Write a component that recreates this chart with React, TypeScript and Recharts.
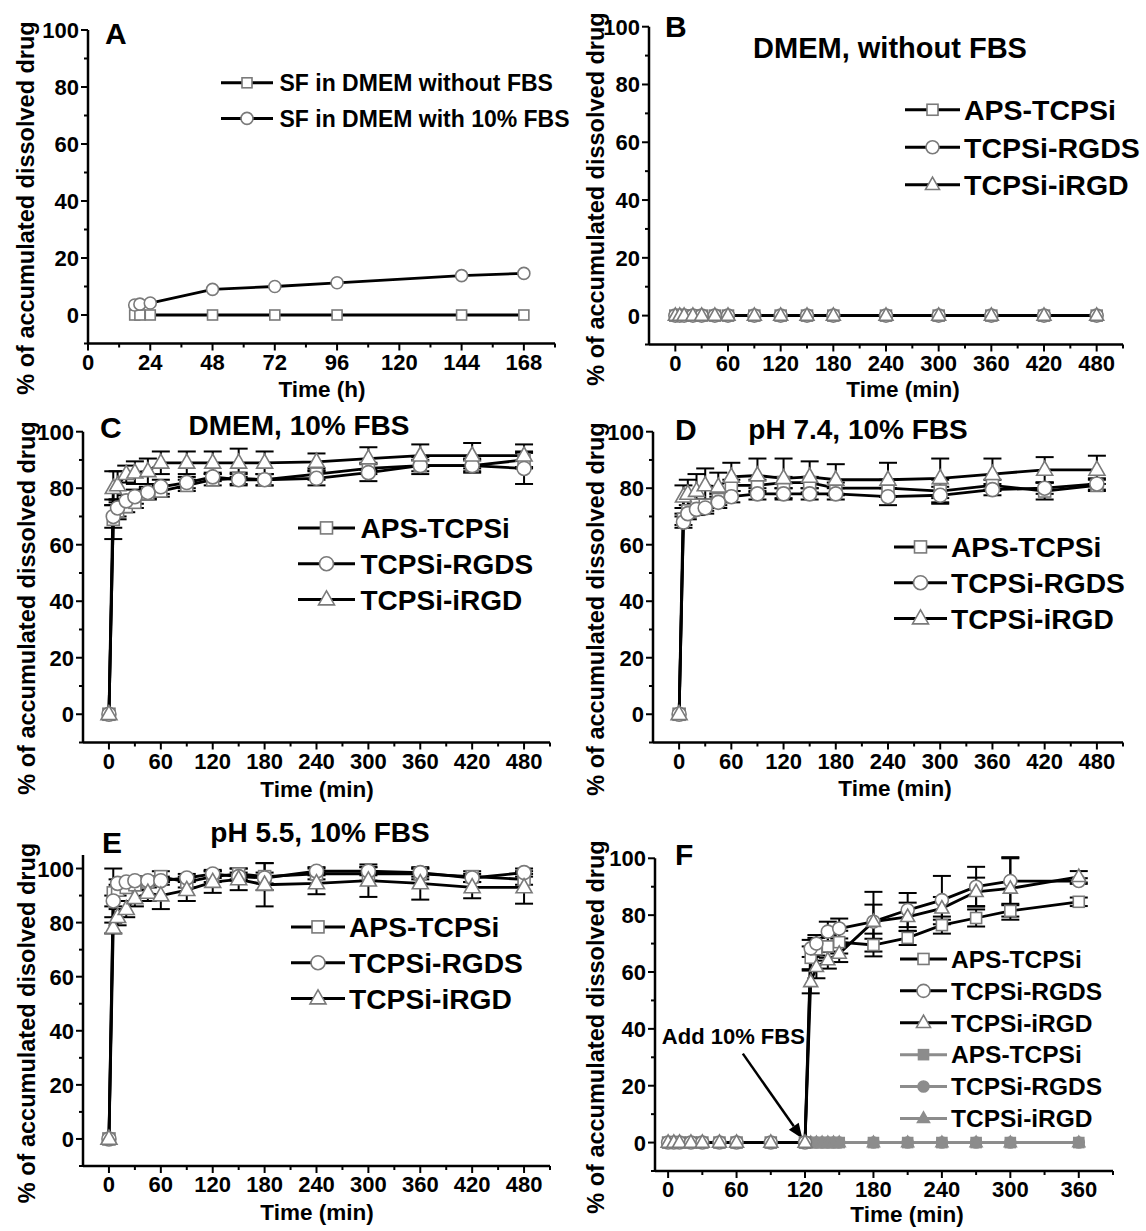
import React from 'react';
import { LineChart, Line, XAxis, YAxis, ErrorBar, Legend, ReferenceLine } from 'recharts';

const W = 1146;
const H = 1231;
const FONT = '"Liberation Sans", Arial, Helvetica, sans-serif';
const MARK_STROKE = '#7a7a7a';
const GRAY = '#8c8c8c';

// ---------- Panel A (hours) ----------
const aTimes = [18, 20, 24, 48, 72, 96, 144, 168];
const aWithoutFBS = [0, 0, 0, 0, 0, 0, 0, 0];
const aWithFBS = [3.5, 3.8, 4.2, 9.0, 10.0, 11.3, 13.8, 14.6];
const aXMajor = [0, 24, 48, 72, 96, 120, 144, 168];
const aXMinor = [12, 36, 60, 84, 108, 132, 156, 180];

// ---------- Shared minute grid (B–E) ----------
const minTimes = [0, 5, 10, 20, 30, 45, 60, 90, 120, 150, 180, 240, 300, 360, 420, 480];
const minXMajor = [0, 60, 120, 180, 240, 300, 360, 420, 480];
const minXMinor = [30, 90, 150, 210, 270, 330, 390, 450, 510];
const yMajor = [0, 20, 40, 60, 80, 100];
const yMinor = [-10, 10, 30, 50, 70, 90];

// ---------- Panel B ----------
const bAPS = [0, 0, 0, 0, 0, 0, 0, 0, 0, 0, 0, 0, 0, 0, 0, 0];
const bRGDS = [0, 0, 0, 0, 0, 0, 0, 0, 0, 0, 0, 0, 0, 0, 0, 0];
const bIRGD = [0, 0, 0, 0, 0, 0, 0, 0, 0, 0, 0, 0, 0, 0, 0, 0];

// ---------- Panel C ----------
const cAPS = [0, 69, 72, 73.5, 75, 78, 79, 81, 83, 83.5, 83, 85, 87, 88, 88, 90];
const cAPSErr = [0, 7, 3, 2, 2, 2, 2, 2, 2, 2, 2, 2, 2, 2, 2, 3];
const cRGDS = [0, 70, 73, 75.5, 77, 78.5, 80.5, 82, 84, 83, 83, 83.5, 85.5, 88, 88, 87];
const cRGDSErr = [0, 4, 3, 2, 2.5, 2, 2.5, 2, 1.5, 2, 2, 2.5, 3, 3, 2.5, 5.5];
const cIRGD = [0, 80, 81, 85, 85.5, 86, 89, 89, 89, 89, 89, 89.3, 90.5, 91.5, 91.5, 91.5];
const cIRGDErr = [0, 6, 5, 3, 4, 4.5, 4, 4, 4, 5, 4, 3, 4, 4, 4.5, 4];

// ---------- Panel D ----------
const dAPS = [0, 69, 72, 74, 74, 76, 81, 81, 82, 82, 80, 80, 79, 81, 79, 81];
const dAPSErr = [0, 2, 2, 2, 2, 2, 2, 2, 2, 2, 2, 3, 4, 2, 3, 2];
const dRGDS = [0, 68, 71, 72.5, 73, 75, 77, 78, 78, 78, 78, 77, 77.5, 79.5, 80, 81.5];
const dRGDSErr = [0, 2, 2, 2, 2, 2, 2, 2, 2, 2, 2, 3, 3, 2, 2, 2];
const dIRGD = [0, 77, 78, 79, 81, 80.5, 84, 84.5, 83.5, 84, 83, 83, 83.5, 85, 86.5, 86.5];
const dIRGDErr = [0, 4, 5, 6, 6, 5, 5, 6, 7, 5.5, 5.5, 6, 7, 5.5, 4.5, 5];

// ---------- Panel E ----------
const eAPS = [0, 91, 92, 93, 94, 95, 97, 95, 97, 98, 97, 98, 98, 98, 97, 96];
const eAPSErr = [0, 9, 2, 2, 2, 2, 2, 2, 2, 2, 5, 2, 2.5, 2, 2, 2];
const eRGDS = [0, 88, 94.5, 95, 95.5, 95.5, 95.5, 96.5, 98, 97, 96.5, 99, 99, 98.5, 96.5, 98.5];
const eRGDSErr = [0, 2, 1.5, 1.5, 1.5, 1.5, 1.5, 1.5, 1.5, 1.5, 2, 1.5, 1.5, 1.5, 1.5, 1.5];
const eIRGD = [0, 78, 82, 85, 89, 91, 90, 92, 95, 96, 94, 94.5, 95.5, 94.5, 93, 93];
const eIRGDErr = [0, 2, 3, 3, 3, 3, 5, 4, 4, 4, 8, 4, 6, 6, 4, 6];

// ---------- Panel F ----------
const fTimes = [0, 5, 10, 20, 30, 45, 60, 90, 120, 125, 130, 140, 150, 180, 210, 240, 270, 300, 360];
const fAPS = [0, 0, 0, 0, 0, 0, 0, 0, 0, 65, 68, 69, 70.5, 69.5, 72, 76.5, 79, 81.5, 84.7];
const fAPSErr = [0, 0, 0, 0, 0, 0, 0, 0, 0, 4, 4, 4, 4, 4, 2.5, 3, 3, 2, 1.5];
const fRGDS = [0, 0, 0, 0, 0, 0, 0, 0, 0, 68.3, 70, 74.2, 75.3, 77.7, 81.8, 85.3, 90, 92, 92];
const fRGDSErr = [0, 0, 0, 0, 0, 0, 0, 0, 0, 3, 3, 3.5, 3.5, 10.5, 6, 8.5, 7, 8, 1];
const fIRGD = [0, 0, 0, 0, 0, 0, 0, 0, 0, 56.5, 61.8, 64.2, 66.5, 77.7, 79.4, 82.4, 88.2, 89.4, 93.5];
const fIRGDErr = [0, 0, 0, 0, 0, 0, 0, 0, 0, 4, 4, 3, 3, 6, 5, 4, 5, 11, 2];
const fCtrlTimes = [125, 130, 135, 140, 145, 150, 180, 210, 240, 270, 300, 360];
const fAPSCtrl = [0, 0, 0, 0, 0, 0, 0, 0, 0, 0, 0, 0];
const fRGDSCtrl = [0, 0, 0, 0, 0, 0, 0, 0, 0, 0, 0, 0];
const fIRGDCtrl = [0, 0, 0, 0, 0, 0, 0, 0, 0, 0, 0, 0];
const fXMajor = [0, 60, 120, 180, 240, 300, 360];
const fXMinor = [30, 90, 150, 210, 270, 330, 390];
const fArrow = [{ x: 65.5, y: 31.3 }, { x: 117.7, y: 1.4 }];

type Shape = 'square' | 'circle' | 'triangle';
interface SeriesCfg {
  name: string;
  t: number[];
  v: number[];
  e?: number[];
  shape: Shape;
  filled?: boolean;
  size: number;
}

const zip = (t: number[], v: number[], e?: number[]) =>
  t.map((x, i) => ({ t: x, v: v[i], e: e ? e[i] : 0 }));

function Marker({ shape, cx, cy, size, filled }: any) {
  const fill = filled ? GRAY : '#fff';
  const stroke = filled ? GRAY : MARK_STROKE;
  const sw = 1.6;
  if (shape === 'square')
    return <rect x={cx - size / 2} y={cy - size / 2} width={size} height={size} fill={fill} stroke={stroke} strokeWidth={sw} />;
  if (shape === 'circle') return <circle cx={cx} cy={cy} r={size / 2} fill={fill} stroke={stroke} strokeWidth={sw} />;
  const s = size;
  const h = s * 0.88;
  return (
    <polygon
      points={`${cx},${cy - h * 0.62} ${cx - s / 2},${cy + h * 0.38} ${cx + s / 2},${cy + h * 0.38}`}
      fill={fill}
      stroke={stroke}
      strokeWidth={sw}
    />
  );
}

interface LegendCfg {
  x: number;
  y0: number;
  dy: number;
  fs: number;
  symW: number;
  gap: number;
}

interface PanelCfg {
  L: number;
  R: number;
  T: number;
  B: number;
  xDomain: [number, number];
  yDomain: [number, number];
  xMajor: number[];
  xMinor: number[];
  yMajor: number[];
  yMinor: number[];
  series: SeriesCfg[];
  legend: LegendCfg;
  arrow?: { x: number; y: number }[];
}

function LegendBox({ series, lg }: { series: SeriesCfg[]; lg: LegendCfg }) {
  return (
    <svg width={420} height={lg.dy * series.length} style={{ display: 'block', overflow: 'visible' }}>
      {series.map((s, i) => {
        const cy = lg.dy * i + lg.dy / 2;
        const col = s.filled ? GRAY : '#000';
        return (
          <g key={i}>
            <line x1={0} x2={lg.symW} y1={cy} y2={cy} stroke={col} strokeWidth={3} />
            <Marker shape={s.shape} cx={lg.symW / 2} cy={cy} size={s.size} filled={s.filled} />
            <text x={lg.symW + lg.gap} y={cy + lg.fs * 0.36} fontSize={lg.fs} fontWeight="bold" fontFamily={FONT} fill="#000">
              {s.name}
            </text>
          </g>
        );
      })}
    </svg>
  );
}

function Panel({ cfg }: { cfg: PanelCfg }) {
  const { L, R, T, B, xDomain, yDomain, series, legend } = cfg;
  const xTicks = [...cfg.xMajor, ...cfg.xMinor].sort((a, b) => a - b);
  const yTicks = [...cfg.yMajor, ...cfg.yMinor].sort((a, b) => a - b);
  const xTick = (p: any) => {
    const v = p.payload.value;
    const major = cfg.xMajor.includes(v);
    return (
      <g>
        <line x1={p.x} x2={p.x} y1={B} y2={B + (major ? 7 : 4)} stroke="#000" strokeWidth={2} />
        {major && (
          <text x={p.x} y={B + 26} textAnchor="middle" fontSize={22} fontWeight="bold" fontFamily={FONT} fill="#000">
            {v}
          </text>
        )}
      </g>
    );
  };
  const yTick = (p: any) => {
    const v = p.payload.value;
    const major = cfg.yMajor.includes(v);
    return (
      <g>
        <line x1={L - (major ? 7 : 4)} x2={L} y1={p.y} y2={p.y} stroke="#000" strokeWidth={2} />
        {major && (
          <text x={L - 9} y={p.y + 8} textAnchor="end" fontSize={22} fontWeight="bold" fontFamily={FONT} fill="#000">
            {v}
          </text>
        )}
      </g>
    );
  };
  // filled (control) series are drawn first, underneath; the others in legend order
  const drawOrder = [
    ...series.map((s, i) => ({ s, i })).filter((d) => d.s.filled),
    ...series.map((s, i) => ({ s, i })).filter((d) => !d.s.filled),
  ];
  return (
    <div style={{ position: 'absolute', left: 0, top: 0 }}>
      <LineChart width={W} height={H} margin={{ top: T, right: W - R, bottom: H - B - 40, left: L - 60 }}>
        <XAxis
          type="number"
          dataKey="t"
          domain={xDomain}
          ticks={xTicks}
          interval={0}
          allowDataOverflow
          height={40}
          axisLine={{ stroke: '#000', strokeWidth: 2.5 }}
          tickLine={false}
          tick={xTick}
        />
        <YAxis
          type="number"
          domain={yDomain}
          ticks={yTicks}
          interval={0}
          allowDataOverflow
          width={60}
          axisLine={{ stroke: '#000', strokeWidth: 2.5 }}
          tickLine={false}
          tick={yTick}
        />
        {drawOrder.map(({ s, i }) => (
          <Line
            key={i}
            data={zip(s.t, s.v, s.e)}
            dataKey="v"
            name={s.name}
            type="linear"
            stroke={s.filled ? GRAY : '#000'}
            strokeWidth={2.8}
            isAnimationActive={false}
            activeDot={false}
            dot={(p: any) => (
              <Marker key={`d${i}-${p.index}`} shape={s.shape} cx={p.cx} cy={p.cy} size={s.size} filled={s.filled} />
            )}
          >
            {s.e && <ErrorBar dataKey="e" width={9} strokeWidth={2} stroke="#000" direction="y" />}
          </Line>
        ))}
        {cfg.arrow && (
          <ReferenceLine
            segment={cfg.arrow}
            ifOverflow="visible"
            shape={(p: any) => {
              const { x1, y1, x2, y2 } = p;
              const dx = x2 - x1;
              const dy = y2 - y1;
              const len = Math.sqrt(dx * dx + dy * dy) || 1;
              const ux = dx / len;
              const uy = dy / len;
              const hl = 15;
              const hw = 6;
              const bx = x2 - ux * hl;
              const by = y2 - uy * hl;
              return (
                <g>
                  <line x1={x1} y1={y1} x2={bx} y2={by} stroke="#000" strokeWidth={2.5} />
                  <polygon
                    points={`${x2},${y2} ${bx - uy * hw},${by + ux * hw} ${bx + uy * hw},${by - ux * hw}`}
                    fill="#000"
                  />
                  <text x={x1 - 81} y={y1 - 10} fontSize={22} fontWeight="bold" fontFamily={FONT} fill="#000">
                    Add 10% FBS
                  </text>
                </g>
              );
            }}
          />
        )}
        <Legend
          layout="vertical"
          align="center"
          verticalAlign="middle"
          wrapperStyle={{
            left: legend.x,
            top: legend.y0 - legend.dy / 2,
            width: 420,
            height: legend.dy * series.length,
            margin: 0,
            padding: 0,
          }}
          content={() => <LegendBox series={series} lg={legend} />}
        />
      </LineChart>
    </div>
  );
}

const minSeries = (
  aps: number[],
  rgds: number[],
  irgd: number[],
  apsE?: number[],
  rgdsE?: number[],
  irgdE?: number[],
  sz = [12, 14, 16]
): SeriesCfg[] => [
  { name: 'APS-TCPSi', t: minTimes, v: aps, e: apsE, shape: 'square', size: sz[0] },
  { name: 'TCPSi-RGDS', t: minTimes, v: rgds, e: rgdsE, shape: 'circle', size: sz[1] },
  { name: 'TCPSi-iRGD', t: minTimes, v: irgd, e: irgdE, shape: 'triangle', size: sz[2] },
];

const panels: PanelCfg[] = [
  {
    L: 88, R: 555, T: 30, B: 343.5,
    xDomain: [0, 180], yDomain: [-10, 100],
    xMajor: aXMajor, xMinor: aXMinor, yMajor, yMinor,
    series: [
      { name: 'SF in DMEM without FBS', t: aTimes, v: aWithoutFBS, shape: 'square', size: 10 },
      { name: 'SF in DMEM with 10% FBS', t: aTimes, v: aWithFBS, shape: 'circle', size: 12 },
    ],
    legend: { x: 221, y0: 82.7, dy: 35.6, fs: 23, symW: 52, gap: 6.5 },
  },
  {
    L: 649, R: 1123, T: 26.7, B: 344.5,
    xDomain: [-30, 510], yDomain: [-10, 100],
    xMajor: minXMajor, xMinor: minXMinor, yMajor, yMinor,
    series: minSeries(bAPS, bRGDS, bIRGD, undefined, undefined, undefined, [11, 13, 14]),
    legend: { x: 905, y0: 110, dy: 37.5, fs: 28.5, symW: 55, gap: 4 },
  },
  {
    L: 83, R: 550, T: 431.7, B: 742.5,
    xDomain: [-30, 510], yDomain: [-10, 100],
    xMajor: minXMajor, xMinor: minXMinor, yMajor, yMinor,
    series: minSeries(cAPS, cRGDS, cIRGD, cAPSErr, cRGDSErr, cIRGDErr),
    legend: { x: 298, y0: 528.3, dy: 35.8, fs: 28, symW: 57, gap: 5.5 },
  },
  {
    L: 653, R: 1123, T: 431.7, B: 742.5,
    xDomain: [-30, 510], yDomain: [-10, 100],
    xMajor: minXMajor, xMinor: minXMinor, yMajor, yMinor,
    series: minSeries(dAPS, dRGDS, dIRGD, dAPSErr, dRGDSErr, dIRGDErr),
    legend: { x: 893.5, y0: 546.7, dy: 35.8, fs: 28.2, symW: 53, gap: 4 },
  },
  {
    L: 83, R: 550, T: 855, B: 1166,
    xDomain: [-30, 510], yDomain: [-10, 105],
    xMajor: minXMajor, xMinor: minXMinor, yMajor, yMinor,
    series: minSeries(eAPS, eRGDS, eIRGD, eAPSErr, eRGDSErr, eIRGDErr),
    legend: { x: 290.7, y0: 926.7, dy: 35.8, fs: 28.2, symW: 54, gap: 4 },
  },
  {
    L: 655, R: 1113, T: 858.3, B: 1171,
    xDomain: [-11.5, 390], yDomain: [-10, 100],
    xMajor: fXMajor, xMinor: fXMinor, yMajor, yMinor,
    series: [
      { name: 'APS-TCPSi', t: fTimes, v: fAPS, e: fAPSErr, shape: 'square', size: 11 },
      { name: 'TCPSi-RGDS', t: fTimes, v: fRGDS, e: fRGDSErr, shape: 'circle', size: 13 },
      { name: 'TCPSi-iRGD', t: fTimes, v: fIRGD, e: fIRGDErr, shape: 'triangle', size: 14 },
      { name: 'APS-TCPSi', t: fCtrlTimes, v: fAPSCtrl, shape: 'square', size: 10, filled: true },
      { name: 'TCPSi-RGDS', t: fCtrlTimes, v: fRGDSCtrl, shape: 'circle', size: 11, filled: true },
      { name: 'TCPSi-iRGD', t: fCtrlTimes, v: fIRGDCtrl, shape: 'triangle', size: 12, filled: true },
    ],
    legend: { x: 900, y0: 959, dy: 31.9, fs: 24.5, symW: 47, gap: 4 },
    arrow: fArrow,
  },
];

const panelLetters = [
  { t: 'A', x: 105, y: 44 },
  { t: 'B', x: 665, y: 37 },
  { t: 'C', x: 100, y: 438 },
  { t: 'D', x: 675, y: 440 },
  { t: 'E', x: 102, y: 853 },
  { t: 'F', x: 675, y: 865 },
];
const panelTitles = [
  { t: 'DMEM, without FBS', x: 890, y: 58, fs: 29 },
  { t: 'DMEM, 10% FBS', x: 299, y: 435, fs: 28 },
  { t: 'pH 7.4, 10% FBS', x: 858, y: 439, fs: 28 },
  { t: 'pH 5.5, 10% FBS', x: 320, y: 842, fs: 28 },
];
const xTitles = [
  { t: 'Time (h)', x: 322, y: 397 },
  { t: 'Time (min)', x: 903, y: 397 },
  { t: 'Time (min)', x: 317, y: 797 },
  { t: 'Time (min)', x: 895, y: 796 },
  { t: 'Time (min)', x: 317, y: 1220 },
  { t: 'Time (min)', x: 907, y: 1222 },
];
const yTitles = [
  { t: '% of accumulated dissolved drug', x: 26, y: 208 },
  { t: '% of accumulated dissolved drug', x: 596, y: 199 },
  { t: '% of accumulated dissolved drug', x: 27, y: 608 },
  { t: '% of accumulated dissolved drug', x: 596, y: 609 },
  { t: '% of accumulated disolved drug', x: 27, y: 1023 },
  { t: '% of accumulated dissolved drug', x: 596, y: 1027 },
];

export default function App() {
  return (
    <div style={{ position: 'absolute', left: 0, top: 0, width: W, height: H, background: '#fff', overflow: 'hidden' }}>
      {panels.map((p, i) => (
        <Panel key={i} cfg={p} />
      ))}
      <svg width={W} height={H} style={{ position: 'absolute', left: 0, top: 0, pointerEvents: 'none' }}>
        {panelLetters.map((l, i) => (
          <text key={`l${i}`} x={l.x} y={l.y} fontSize={30} fontWeight="bold" fontFamily={FONT} fill="#000">
            {l.t}
          </text>
        ))}
        {panelTitles.map((l, i) => (
          <text key={`t${i}`} x={l.x} y={l.y} textAnchor="middle" fontSize={l.fs} fontWeight="bold" fontFamily={FONT} fill="#000">
            {l.t}
          </text>
        ))}
        {xTitles.map((l, i) => (
          <text key={`x${i}`} x={l.x} y={l.y} textAnchor="middle" fontSize={22.5} fontWeight="bold" fontFamily={FONT} fill="#000">
            {l.t}
          </text>
        ))}
        {yTitles.map((l, i) => (
          <text
            key={`y${i}`}
            x={l.x}
            y={l.y}
            transform={`rotate(-90 ${l.x} ${l.y})`}
            textAnchor="middle"
            dominantBaseline="central"
            fontSize={23.5}
            fontWeight="bold"
            fontFamily={FONT}
            fill="#000"
          >
            {l.t}
          </text>
        ))}
      </svg>
    </div>
  );
}
